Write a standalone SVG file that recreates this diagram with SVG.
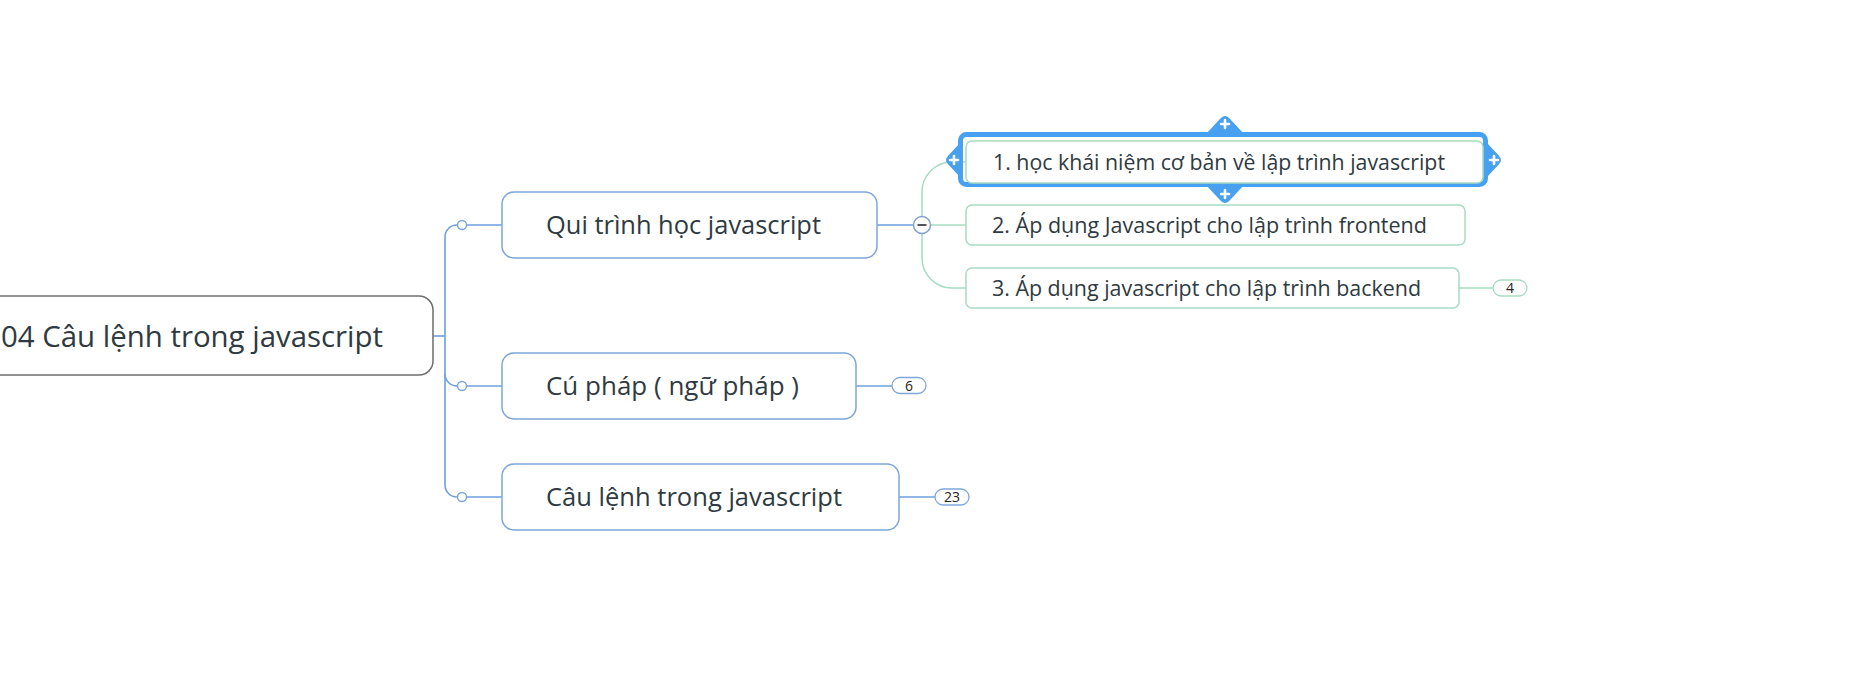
<svg xmlns="http://www.w3.org/2000/svg" width="1855" height="690" viewBox="0 0 1855 690">
<style>
text{font-family:"Open Sans","Noto Sans","DejaVu Sans",sans-serif;fill:#2f3a42}
.root{fill:#fff;stroke:#6e6e6e;stroke-width:1.5}
.main{fill:#fff;stroke:#7ea6d9;stroke-width:1.5}
.sub{fill:#fff;stroke:#a6dcc1;stroke-width:1.5}
.bl{fill:none;stroke:#6f9fdc;stroke-width:1.6}
.gl{fill:none;stroke:#a6dcc1;stroke-width:1.5}
.dot{fill:#fff;stroke:#7ea6d9;stroke-width:1.5}
.badge{fill:#fff;stroke:#7ea6d9;stroke-width:1.3}
.gbadge{fill:#fff;stroke:#a6dcc1;stroke-width:1.3}
.bt{font-size:14px;text-anchor:middle;fill:#222}
.t1{font-size:26px}
.t2{font-size:21px}
.sel{fill:none;stroke:#47a0f0;stroke-width:5}
.hd{fill:#47a0f0;stroke:#47a0f0;stroke-width:3;stroke-linejoin:round}
.plus{stroke:#fff;stroke-width:2.6;stroke-linecap:round}
</style>
<rect width="1855" height="690" fill="#fff"/>
<g id="connectors">
<path class="bl" d="M433,336 H445"/>
<path class="bl" d="M445,336 V237 A12,12 0 0 1 457,225"/>
<path class="bl" d="M445,336 V374 A12,12 0 0 0 457,386"/>
<path class="bl" d="M445,374 V485 A12,12 0 0 0 457,497"/>
<path class="bl" d="M467,225 H502"/>
<path class="bl" d="M467,386 H502"/>
<path class="bl" d="M467,497 H502"/>
<path class="bl" d="M877,225 H913"/>
<path class="bl" d="M856,386 H892"/>
<path class="bl" d="M899,497 H935"/>
<path class="gl" d="M922,216 V192 A30,30 0 0 1 952,162 H966"/>
<path class="gl" d="M931,225 H966"/>
<path class="gl" d="M922,234 V258 A30,30 0 0 0 952,288 H966"/>
<path class="gl" d="M1459,288 H1493"/>
<circle class="dot" cx="462" cy="225" r="4.5"/>
<circle class="dot" cx="462" cy="386" r="4.5"/>
<circle class="dot" cx="462" cy="497" r="4.5"/>
</g>
<g id="root">
<rect class="root" x="-30" y="296" width="463" height="79" rx="14"/>
<text x="1" y="347" font-size="30" textLength="382" lengthAdjust="spacingAndGlyphs">04 Câu lệnh trong javascript</text>
</g>
<g id="n-qui-trinh">
<rect class="main" x="502" y="192" width="375" height="66" rx="12"/>
<text class="t1" x="546" y="234" textLength="275" lengthAdjust="spacingAndGlyphs">Qui trình học javascript</text>
</g>
<g id="collapse">
<circle cx="922" cy="225" r="8.5" fill="#fff" stroke="#7f9fcf" stroke-width="1.5"/>
<path d="M917.5,225 H926.5" stroke="#555" stroke-width="2"/>
</g>
<g id="n-cu-phap">
<rect class="main" x="502" y="353" width="354" height="66" rx="12"/>
<text class="t1" x="546" y="395" textLength="253" lengthAdjust="spacingAndGlyphs">Cú pháp ( ngữ pháp )</text>
<rect class="badge" x="892" y="377.5" width="34" height="16" rx="8"/>
<text class="bt" x="909" y="390.5">6</text>
</g>
<g id="n-cau-lenh">
<rect class="main" x="502" y="464" width="397" height="66" rx="12"/>
<text class="t1" x="546" y="506" textLength="296" lengthAdjust="spacingAndGlyphs">Câu lệnh trong javascript</text>
<rect class="badge" x="935" y="489" width="34" height="16" rx="8"/>
<text class="bt" x="952" y="502">23</text>
</g>
<g id="n-1">
<path class="hd" d="M1208,134 L1222,119 Q1225,116 1228,119 L1242,134 Z"/>
<path class="hd" d="M1208,185 L1222,200 Q1225,203 1228,200 L1242,185 Z"/>
<path class="hd" d="M961,144 L949,157 Q946,160 949,163 L961,176 Z"/>
<path class="hd" d="M1486,144 L1498,157 Q1501,160 1498,163 L1486,176 Z"/>
<rect class="sel" x="960.5" y="134.5" width="525" height="50" rx="6"/>
<path class="plus" d="M1225,120 V128 M1221,124 H1229"/>
<path class="plus" d="M1225,190 V198 M1221,194 H1229"/>
<path class="plus" d="M954,156 V164 M950,160 H958"/>
<path class="plus" d="M1494,156 V164 M1490,160 H1498"/>
<rect class="sub" x="966" y="141" width="517" height="42" rx="6"/>
<text class="t2" x="993" y="170" textLength="452" lengthAdjust="spacingAndGlyphs">1. học khái niệm cơ bản về lập trình javascript</text>
</g>
<g id="n-2">
<rect class="sub" x="966" y="205" width="499" height="40" rx="6"/>
<text class="t2" x="992" y="232.5" textLength="435" lengthAdjust="spacingAndGlyphs">2. Áp dụng Javascript cho lập trình frontend</text>
</g>
<g id="n-3">
<rect class="sub" x="966" y="268" width="493" height="40" rx="6"/>
<text class="t2" x="992" y="295.5" textLength="429" lengthAdjust="spacingAndGlyphs">3. Áp dụng javascript cho lập trình backend</text>
<rect class="gbadge" x="1493" y="280" width="34" height="16" rx="8"/>
<text class="bt" x="1510" y="293">4</text>
</g>
</svg>
